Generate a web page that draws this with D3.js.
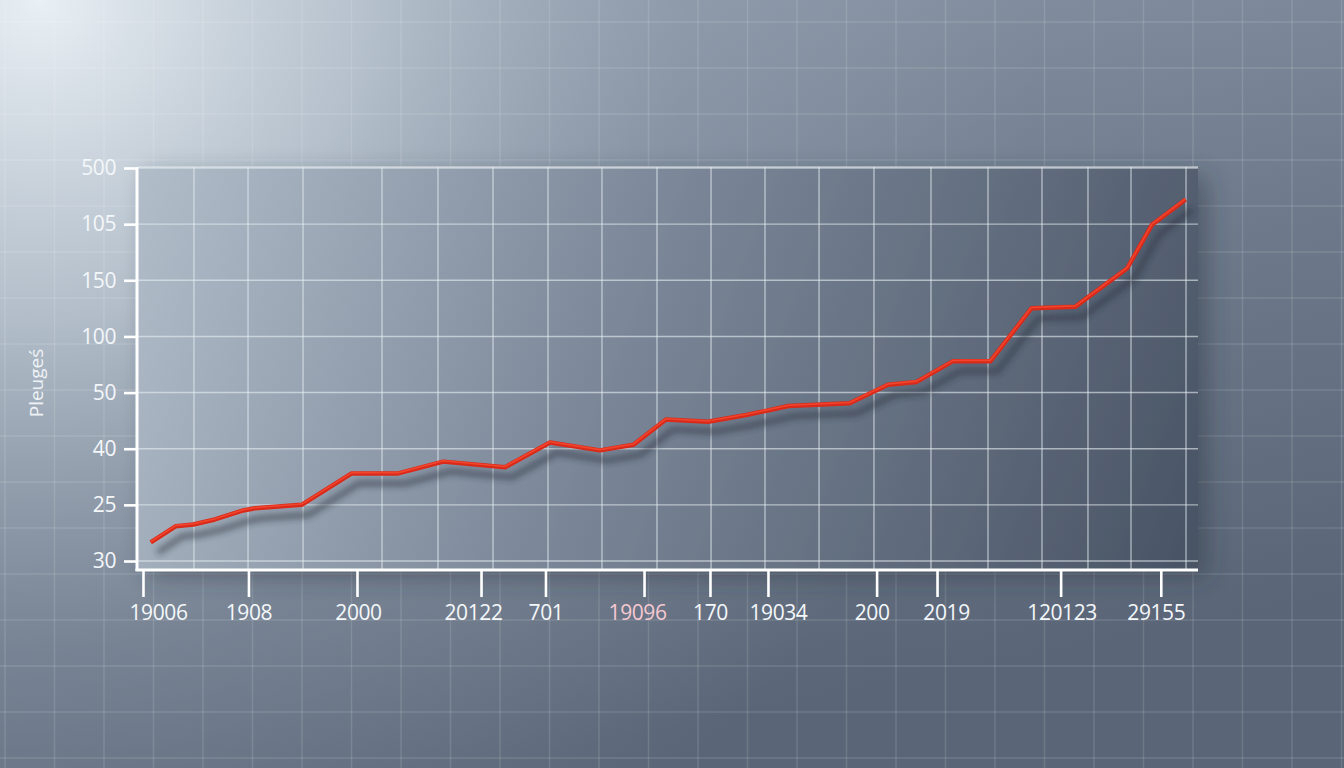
<!DOCTYPE html>
<html>
<head>
<meta charset="utf-8">
<script src="https://cdn.jsdelivr.net/npm/d3@7"></script>
<style>
  html, body { margin: 0; padding: 0; overflow: hidden; }
  svg { display: block; }
  svg text { font-family: "Open Sans", "Noto Sans", sans-serif; }
</style>
</head>
<body>
<svg width="1344" height="768"></svg>
<script>
// y tick labels, bottom to top (one per gridline)
const yLabels = ["30", "25", "40", "50", "100", "150", "105", "500"];

// x ticks: position along the axis (0-100) and their labels
const xTickPos = [0.47, 10.42, 20.66, 32.36, 38.44, 47.74, 53.96, 59.43, 69.68, 75.38, 87.04, 96.49];
const xLabels = ["19006", "1908", "2000", "20122", "701", "19096", "170", "19034", "200", "2019", "120123", "29155"];
const labelDx = [15, 0, 1, -8, 0, -7, 0, 10, -5, 9, 1, -5];

// vertical gridlines inside the panel
const xGrid = [5.28, 10.38, 15.57, 23.02, 28.3, 33.49, 38.68, 43.77, 48.96, 54.06, 59.15, 64.25,
    69.43, 74.81, 80.19, 85.28, 89.62, 93.68, 98.87];

// the red series
const seriesX = [1.2, 3.58, 5.22, 7.26, 9.93, 11.04, 15.44, 20.16, 24.56, 28.8, 34.62, 38.87, 43.58,
    46.74, 49.81, 53.77, 57.39, 61.36, 67.13, 70.75, 73.45, 76.89, 80.42, 84.28, 88.43, 93.3, 95.66, 98.83];
const seriesY = [0.33, 0.62, 0.65, 0.74, 0.9, 0.94, 1.0, 1.56, 1.56, 1.77, 1.67, 2.11, 1.97,
    2.07, 2.52, 2.48, 2.6, 2.76, 2.81, 3.14, 3.19, 3.56, 3.56, 4.5, 4.53, 5.21, 5.99, 6.44];

const svg = d3.select("svg"),
    width = 1344,
    height = 768;

const pLeft = 138, pRight = 1198, pTop = 167, pBottom = 570;
const font = '"Open Sans", "Noto Sans", sans-serif';

const x = d3.scaleLinear().domain([0, 100]).range([pLeft, pRight]);
const y = d3.scaleLinear().domain([0, 7]).range([561, 168]);

const defs = svg.append("defs");

// page background
const bg = defs.append("linearGradient").attr("id", "bg")
    .attr("x1", 0).attr("y1", 0).attr("x2", 0.35).attr("y2", 1);
bg.append("stop").attr("offset", "0%").attr("stop-color", "#8f9bab");
bg.append("stop").attr("offset", "55%").attr("stop-color", "#6e7a8b");
bg.append("stop").attr("offset", "100%").attr("stop-color", "#5a6677");

const glow = defs.append("radialGradient").attr("id", "glow")
    .attr("gradientUnits", "userSpaceOnUse")
    .attr("cx", 40).attr("cy", 0).attr("r", 1000);
glow.append("stop").attr("offset", "0%").attr("stop-color", "#eef4f8").attr("stop-opacity", 0.95);
glow.append("stop").attr("offset", "32%").attr("stop-color", "#c8d3dd").attr("stop-opacity", 0.72);
glow.append("stop").attr("offset", "65%").attr("stop-color", "#a3afbd").attr("stop-opacity", 0.3);
glow.append("stop").attr("offset", "100%").attr("stop-color", "#a3afbd").attr("stop-opacity", 0);

// panel
const panel = defs.append("linearGradient").attr("id", "panel")
    .attr("gradientUnits", "userSpaceOnUse")
    .attr("x1", pLeft).attr("y1", pTop).attr("x2", pRight).attr("y2", pBottom);
panel.append("stop").attr("offset", "0%").attr("stop-color", "#b1bdc9");
panel.append("stop").attr("offset", "45%").attr("stop-color", "#7b8798");
panel.append("stop").attr("offset", "100%").attr("stop-color", "#485364");

const panelShadow = defs.append("filter").attr("id", "panelShadow")
    .attr("x", "-5%").attr("y", "-5%").attr("width", "115%").attr("height", "120%");
panelShadow.append("feDropShadow").attr("dx", 10).attr("dy", 8)
    .attr("stdDeviation", 12).attr("flood-color", "#2a3340").attr("flood-opacity", 0.45);

const blur = defs.append("filter").attr("id", "blur")
    .attr("x", "-10%").attr("y", "-20%").attr("width", "120%").attr("height", "140%");
blur.append("feGaussianBlur").attr("stdDeviation", 3);

svg.append("rect").attr("width", width).attr("height", height).attr("fill", "url(#bg)");
svg.append("rect").attr("width", width).attr("height", height).attr("fill", "url(#glow)");

// faint page grid
const bgGrid = svg.append("g").attr("stroke", "#ffffff").attr("stroke-opacity", 0.12).attr("stroke-width", 1.5);
bgGrid.selectAll("line.v").data(d3.range(5, width, 49.5)).enter().append("line")
    .attr("class", "v")
    .attr("x1", function(d) { return d; }).attr("x2", function(d) { return d; })
    .attr("y1", 0).attr("y2", height);
bgGrid.selectAll("line.h").data(d3.range(22, height, 46)).enter().append("line")
    .attr("class", "h")
    .attr("y1", function(d) { return d; }).attr("y2", function(d) { return d; })
    .attr("x1", 0).attr("x2", width);

// panel
svg.append("rect")
    .attr("x", pLeft).attr("y", pTop)
    .attr("width", pRight - pLeft).attr("height", pBottom - pTop)
    .attr("fill", "url(#panel)")
    .attr("filter", "url(#panelShadow)");

// gridlines
const grid = svg.append("g").attr("stroke", "#e8eef4").attr("stroke-opacity", 0.6).attr("stroke-width", 1.4);
grid.selectAll("line.v").data(xGrid).enter().append("line")
    .attr("class", "v")
    .attr("x1", function(d) { return x(d); }).attr("x2", function(d) { return x(d); })
    .attr("y1", pTop).attr("y2", pBottom);
grid.selectAll("line.h").data(d3.range(yLabels.length)).enter().append("line")
    .attr("class", "h")
    .attr("x1", pLeft).attr("x2", pRight)
    .attr("y1", function(d) { return y(d); }).attr("y2", function(d) { return y(d); });
grid.append("line").attr("x1", pLeft).attr("x2", pRight).attr("y1", pTop).attr("y2", pTop);

// line + its shadow
const points = seriesX.map(function(d, i) { return [d, seriesY[i]]; });
const line = d3.line()
    .x(function(d) { return x(d[0]); })
    .y(function(d) { return y(d[1]); });

svg.append("path")
    .datum(points)
    .attr("d", line)
    .attr("transform", "translate(7,10)")
    .attr("fill", "none")
    .attr("stroke", "#27303c")
    .attr("stroke-opacity", 0.55)
    .attr("stroke-width", 6)
    .attr("filter", "url(#blur)");

svg.append("path")
    .datum(points)
    .attr("d", line)
    .attr("fill", "none")
    .attr("stroke", "#d92a1a")
    .attr("stroke-width", 4.5)
    .attr("stroke-linejoin", "round");

svg.append("path")
    .datum(points)
    .attr("d", line)
    .attr("transform", "translate(0,-0.8)")
    .attr("fill", "none")
    .attr("stroke", "#f2452d")
    .attr("stroke-width", 1.6)
    .attr("stroke-linejoin", "round");

// axes
const yAxis = svg.append("g")
    .attr("transform", "translate(" + (pLeft - 1) + ",0)")
    .call(d3.axisLeft(y)
        .tickValues(d3.range(yLabels.length))
        .tickFormat(function(d) { return yLabels[d]; })
        .tickSize(13)
        .tickPadding(8));
yAxis.select(".domain").remove();

const xAxis = svg.append("g")
    .attr("transform", "translate(0," + pBottom + ")")
    .call(d3.axisBottom(x)
        .tickValues(xTickPos)
        .tickFormat(function(d, i) { return xLabels[i]; })
        .tickSize(27)
        .tickPadding(8));
xAxis.select(".domain").remove();

yAxis.attr("font-family", null);
xAxis.attr("font-family", null);

svg.selectAll(".tick line").attr("stroke", "#ffffff").attr("stroke-width", 2.6);
svg.selectAll(".tick text")
    .attr("fill", "#f4f7fa")
    .style("font-family", font)
    .style("font-size", "21px")
    .style("letter-spacing", "-0.4px");

xAxis.selectAll(".tick text")
    .attr("dx", function(d, i) { return labelDx[i]; })
    .attr("fill", function(d, i) { return xLabels[i] === "19096" ? "#f6c9d2" : "#f4f7fa"; });

// axis lines
svg.append("line")
    .attr("x1", pLeft - 1).attr("x2", pLeft - 1)
    .attr("y1", pTop).attr("y2", pBottom + 1)
    .attr("stroke", "#ffffff").attr("stroke-width", 3);
svg.append("line")
    .attr("x1", pLeft - 2.5).attr("x2", pRight)
    .attr("y1", pBottom).attr("y2", pBottom)
    .attr("stroke", "#ffffff").attr("stroke-width", 3);

// y axis title
svg.append("text")
    .attr("transform", "translate(43,383) rotate(-90)")
    .attr("text-anchor", "middle")
    .attr("fill", "#eef2f6")
    .style("font-family", font)
    .style("font-size", "19px")
    .text("Pleugeś");
</script>
</body>
</html>
